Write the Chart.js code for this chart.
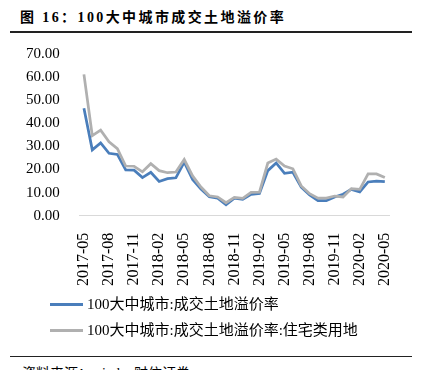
<!DOCTYPE html>
<html>
<head>
<meta charset="utf-8">
<script src="https://cdn.jsdelivr.net/npm/chart.js@4"></script>
<style>
  body { margin: 0; width: 424px; height: 370px; overflow: hidden; background: #fff; position: relative;
         font-family: "Liberation Serif", "Noto Sans CJK SC", serif; color: #000; }
  #title { position: absolute; top: 6px; left: 20px; font-size: 14px; font-weight: bold; letter-spacing: 2.4px; white-space: nowrap; }
  #rule1 { position: absolute; top: 31px; left: 10px; width: 402px; height: 2px; background: #222; }
  #box { position: absolute; top: 33px; left: 0; width: 424px; height: 266px; }
  .leg { position: absolute; left: 50px; font-size: 15px; white-space: nowrap; }
  .leg span { display: inline-block; width: 33px; height: 3px; vertical-align: middle; margin-right: 4px; position: relative; top: -1px; }
  #rule2 { position: absolute; top: 356px; left: 10px; width: 402px; height: 1px; background: #222; }
  #src { position: absolute; top: 362px; left: 22px; font-size: 14px; white-space: nowrap; }
</style>
</head>
<body>
<div id="title">图 16：100大中城市成交土地溢价率</div>
<div id="rule1"></div>
<div id="box"><canvas id="c"></canvas></div>
<div class="leg" style="top:292px"><span style="background:#4a7ebb"></span>100大中城市:成交土地溢价率</div>
<div class="leg" style="top:318px"><span style="background:#b0b0b0"></span>100大中城市:成交土地溢价率:住宅类用地</div>
<div id="rule2"></div>
<div id="src">资料来源：wind，财信证券</div>
<script>
var months = ["2017-05","2017-06","2017-07","2017-08","2017-09","2017-10","2017-11","2017-12",
  "2018-01","2018-02","2018-03","2018-04","2018-05","2018-06","2018-07","2018-08","2018-09","2018-10",
  "2018-11","2018-12","2019-01","2019-02","2019-03","2019-04","2019-05","2019-06","2019-07","2019-08",
  "2019-09","2019-10","2019-11","2019-12","2020-01","2020-02","2020-03","2020-04","2020-05"];

var allLand = [46.5, 28.5, 31.5, 27, 26.5, 19.8, 19.7, 16.5, 18.8, 14.8, 16, 16.4, 23.2, 15.7, 11.5,
  8.2, 7.6, 4.7, 7.6, 7.1, 9.2, 9.6, 19.5, 22.8, 18.3, 18.8, 12.4, 9.0, 6.5, 6.5, 8.1, 9.3, 11.4,
  10.3, 14.6, 15.0, 14.7];

var housingLand = [61.2, 34.6, 37, 32, 29, 21.5, 21.4, 19, 22.5, 19.5, 18.6, 18.9, 24.3, 17.2, 12.4,
  8.6, 8.1, 5.6, 7.9, 7.5, 10.1, 10.2, 22.8, 24.5, 21.5, 20.3, 12.9, 9.5, 7.6, 7.6, 8.5, 8.1, 11.7,
  11.4, 18.1, 18.1, 16.5];

var yTicks = [0, 10, 20, 30, 40, 50, 60, 70];

var ctx = document.getElementById("c").getContext("2d");
var chart = new Chart(ctx, {
  type: "line",
  data: {
    labels: months,
    datasets: [{
      label: "100大中城市:成交土地溢价率",
      data: allLand,
      borderColor: "#4a7ebb",
      borderWidth: 2.75,
      pointRadius: 0,
      tension: 0,
      order: 1
    }, {
      label: "100大中城市:成交土地溢价率:住宅类用地",
      data: housingLand,
      borderColor: "#b0b0b0",
      borderWidth: 2.75,
      pointRadius: 0,
      tension: 0,
      order: 0
    }]
  },
  options: {
    responsive: true,
    maintainAspectRatio: false,
    animation: false,
    layout: { padding: { left: 14, right: 35, top: 0, bottom: 4 } },
    plugins: { legend: { display: false }, tooltip: { enabled: false } },
    scales: {
      x: {
        offset: true,
        grid: { display: false },
        border: { color: "#d9d9d9", width: 1 },
        ticks: {
          autoSkip: false,
          minRotation: 90,
          maxRotation: 90,
          padding: 9,
          color: "#000",
          font: { family: "Liberation Serif", size: 16 },
          callback: function(value, index) {
            return index % 3 === 0 ? months[index] : "";
          }
        }
      },
      y: {
        min: yTicks[0],
        max: yTicks[yTicks.length - 1],
        grid: { display: false },
        border: { display: false },
        afterBuildTicks: function(axis) {
          axis.ticks = yTicks.map(function(v) { return { value: v }; });
        },
        ticks: {
          padding: 12,
          color: "#000",
          font: { family: "Liberation Serif", size: 15 },
          callback: function(value) { return value.toFixed(2); }
        }
      }
    }
  }
});
</script>
</body>
</html>
